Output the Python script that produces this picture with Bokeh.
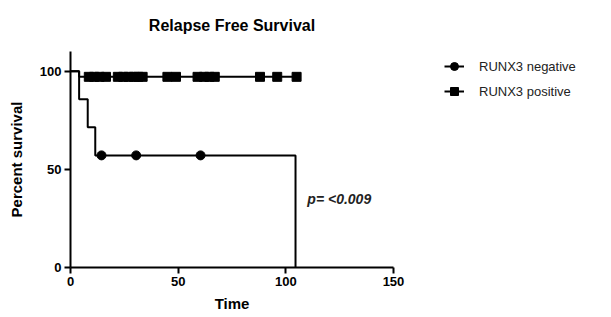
from bokeh.plotting import figure
from bokeh.models import Range1d, FixedTicker, Legend, LegendItem, Label, Title
from bokeh.embed import file_html
from bokeh.resources import INLINE

# Data
neg_time = [0, 4, 8, 11.5, 104.5]
neg_surv = [100, 85.7, 71.4, 57.1, 0]
neg_cens_time = [14.4, 30.5, 60.4]
neg_cens_surv = [57.1, 57.1, 57.1]

pos_time = [0, 4, 105]
pos_surv = [100, 97.1, 97.1]
pos_cens_time = [8.5, 11, 13.5, 16.5, 22, 24.5, 27, 29.5, 31.5, 33.5, 45, 49, 59, 62, 64.5, 67, 88, 96, 105]
pos_cens_surv = [97.1] * len(pos_cens_time)

x_ticks = [0, 50, 100, 150]
y_ticks = [0, 50, 100]

FONT = "Liberation Sans"

p = figure(frame_width=323, frame_height=216, output_backend="svg", toolbar_location=None,
           x_range=Range1d(0, 150), y_range=Range1d(0, 110),
           min_border_left=62, min_border_right=205, min_border_top=51, min_border_bottom=45,
           margin=(0, 0, 0, 4))
p.outline_line_color = None
p.grid.visible = False
p.background_fill_color = "white"

p.add_layout(Title(text="Relapse Free Survival", text_font=FONT, text_font_size="16px",
                   text_font_style="bold", text_color="black", align="center",
                   vertical_align="top", standoff=32), "above")

for ax in (p.xaxis[0], p.yaxis[0]):
    ax.axis_line_width = 2
    ax.axis_line_color = "black"
    ax.major_tick_line_width = 2
    ax.major_tick_line_color = "black"
    ax.major_tick_out = 6
    ax.major_tick_in = 0
    ax.minor_tick_line_color = None
    ax.major_label_text_font = FONT
    ax.major_label_text_font_size = "13px"
    ax.major_label_text_font_style = "bold"
    ax.major_label_text_color = "black"
    ax.axis_label_text_font = FONT
    ax.axis_label_text_font_size = "15px"
    ax.axis_label_text_font_style = "bold"
    ax.axis_label_text_color = "black"

p.xaxis.ticker = FixedTicker(ticks=x_ticks)
p.yaxis.ticker = FixedTicker(ticks=y_ticks)
p.xaxis.axis_label = "Time"
p.yaxis.axis_label = "Percent survival"
p.xaxis.axis_label_standoff = 6
p.yaxis.axis_label_standoff = 12
p.xaxis.major_label_standoff = 3
p.yaxis.major_label_standoff = 3

neg_line = p.step(neg_time, neg_surv, mode="after", line_color="black", line_width=2)
neg_pts = p.scatter(neg_cens_time, neg_cens_surv, marker="circle", size=9, color="black")
pos_line = p.step(pos_time, pos_surv, mode="after", line_color="black", line_width=2)
pos_pts = p.scatter(pos_cens_time, pos_cens_surv, marker="square", size=9, color="black")

p.add_layout(Label(x=110, y=31, text="p= <0.009", text_font=FONT, text_font_size="14px",
                   text_font_style="bold italic", text_color="#222222"))

legend = Legend(items=[LegendItem(label="RUNX3 negative", renderers=[neg_line, neg_pts]),
                       LegendItem(label="RUNX3 positive", renderers=[pos_line, pos_pts])],
                location=(51, 166), margin=0, padding=0, spacing=5,
                glyph_width=20, glyph_height=20, label_standoff=15,
                label_text_font=FONT, label_text_font_size="13px", label_text_color="#222222",
                border_line_color=None, background_fill_alpha=0)
p.add_layout(legend, "right")

open("out.html", "w").write(file_html(p, INLINE))
